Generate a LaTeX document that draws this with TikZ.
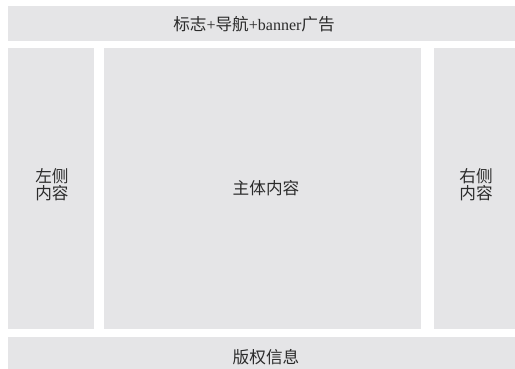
\documentclass[tikz,border=0pt]{standalone}
\usepackage{fontspec}
\setmainfont{Liberation Serif}
\newfontfamily\cjk{Noto Sans CJK SC}[Scale=1.04]
\definecolor{panel}{HTML}{E5E5E7}
\definecolor{txt}{HTML}{2B2B2B}
\begin{document}
\begin{tikzpicture}[x=1pt,y=-1pt,
  box/.style={fill=panel,draw=none},
  lbl/.style={text=txt,font=\fontsize{16}{17}\selectfont,align=center,inner sep=0pt}]
\useasboundingbox (0,0) rectangle (515,369);
\fill[white] (0,0) rectangle (515,369);
\path[box] (8,6) rectangle (515,41);
\node[lbl] (top) at (254,24) {\cjk 标志\normalfont+\cjk 导航\normalfont+banner\cjk 广告};
\path[box] (8,48) rectangle (94,329);
\node[lbl] (left) at (52,185) {\cjk 左侧\\\cjk 内容};
\path[box] (104,48) rectangle (421,329);
\node[lbl] (main) at (266,188) {\cjk 主体内容};
\path[box] (434,48) rectangle (515,329);
\node[lbl] (right) at (476,185) {\cjk 右侧\\\cjk 内容};
\path[box] (8,337) rectangle (515,369);
\node[lbl] (bottom) at (266,357) {\cjk 版权信息};
\end{tikzpicture}
\end{document}
